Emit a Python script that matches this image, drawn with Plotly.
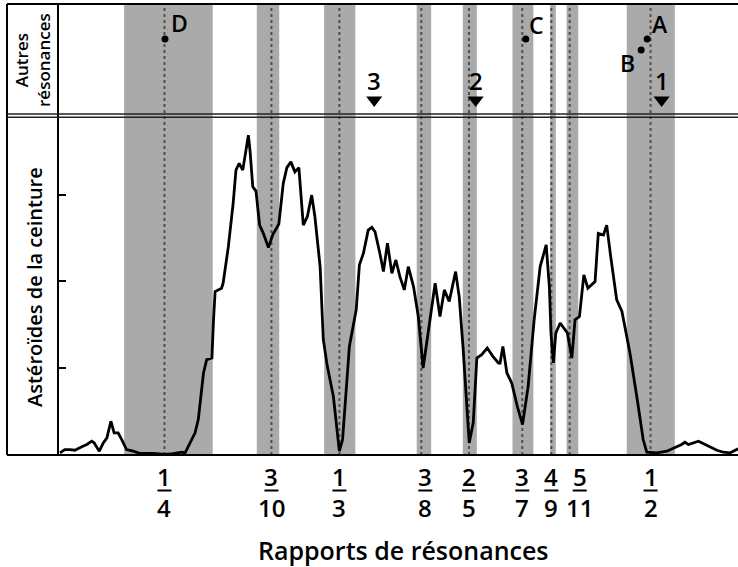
import plotly.graph_objects as go

# Semi-major axis of Jupiter (AU); a resonance p/q sits at a = aJ * (p/q)^(2/3)
A_JUPITER = 5.2026

# Resonance ratios (asteroid period / Jupiter period) used as x tick labels
res_num = [1, 3, 1, 3, 2, 3, 4, 5, 1]
res_den = [4, 10, 3, 8, 5, 7, 9, 11, 2]
res_label_shift = [0, 0, 0, 4, 0, 0, 0, 10, 0]  # px, to keep crowded labels apart

# Shaded resonance zones (AU)
zone_lo = [1.964, 2.295, 2.463, 2.694, 2.809, 2.933, 3.027, 3.068, 3.218]
zone_hi = [2.185, 2.351, 2.541, 2.730, 2.844, 2.985, 3.041, 3.097, 3.338]

# Main-belt asteroid distribution: semi-major axis (AU) and relative count
belt_a = [1.804, 1.816, 1.829, 1.841, 1.861, 1.871, 1.883, 1.889, 1.902, 1.912,
          1.921, 1.931, 1.939, 1.949, 1.958, 1.970, 1.987, 2.004, 2.036, 2.066,
          2.086, 2.108, 2.116, 2.128, 2.141, 2.149, 2.158, 2.162, 2.170, 2.183,
          2.187, 2.191, 2.207, 2.211, 2.224, 2.236, 2.243, 2.251, 2.260, 2.274,
          2.278, 2.285, 2.293, 2.302, 2.311, 2.324, 2.335, 2.350, 2.361, 2.370,
          2.380, 2.390, 2.400, 2.411, 2.421, 2.432, 2.440, 2.453, 2.461, 2.471,
          2.486, 2.501, 2.509, 2.526, 2.543, 2.551, 2.561, 2.573, 2.582, 2.590,
          2.602, 2.611, 2.621, 2.632, 2.642, 2.652, 2.663, 2.673, 2.686, 2.698,
          2.710, 2.723, 2.740, 2.752, 2.763, 2.775, 2.791, 2.800, 2.810, 2.825,
          2.835, 2.844, 2.856, 2.870, 2.884, 2.898, 2.902, 2.909, 2.919, 2.931,
          2.945, 2.958, 2.972, 2.987, 3.002, 3.017, 3.025, 3.029, 3.035, 3.041,
          3.052, 3.070, 3.081, 3.089, 3.100, 3.111, 3.121, 3.139, 3.147, 3.160,
          3.168, 3.178, 3.193, 3.206, 3.226, 3.243, 3.259, 3.268, 3.293, 3.318,
          3.338, 3.355, 3.363, 3.372, 3.397, 3.418, 3.443, 3.459, 3.476, 3.496]
belt_n = [2.5, 6.3, 6.3, 5.5, 10.1, 12.1, 15.9, 14.0, 4.4, 14.0,
          19.8, 38.9, 25.5, 25.5, 17.8, 6.3, 4.4, 1.7, 1.7, 0.6,
          1.7, 3.2, 2.5, 13.2, 25.5, 40.8, 75.3, 94.5, 109.8, 111.7,
          155.7, 188.3, 192.2, 197.9, 240.0, 289.9, 328.2, 335.9, 328.2, 368.4,
          351.1, 309.0, 304.0, 264.9, 255.7, 239.1, 254.0, 266.1, 312.9, 331.0,
          337.7, 326.2, 331.0, 264.9, 274.5, 299.4, 274.5, 217.0, 132.8, 102.1,
          67.6, 4.4, 17.8, 125.1, 167.2, 219.0, 232.4, 259.2, 262.3, 257.2,
          232.4, 211.3, 243.9, 209.4, 224.7, 205.5, 190.2, 217.0, 194.0, 159.5,
          100.2, 140.5, 197.9, 159.5, 190.2, 176.8, 211.3, 182.5, 121.3, 14.0,
          37.0, 111.7, 115.5, 123.2, 113.6, 106.0, 106.0, 125.1, 94.5, 83.0,
          56.1, 35.1, 79.1, 155.7, 217.0, 242.0, 194.0, 140.5, 106.0, 140.5,
          152.0, 140.5, 111.7, 155.7, 159.5, 207.5, 192.2, 199.8, 255.4, 253.4,
          264.9, 228.5, 178.7, 165.3, 117.5, 67.6, 17.8, 3.2, 2.5, 4.4,
          8.3, 12.1, 14.7, 12.1, 15.9, 10.9, 5.5, 3.2, 2.5, 7.1]

# Other resonances (upper panel): labelled points and numbered markers
other_names = ["D", "C", "A", "B"]
other_a = [2.066, 2.966, 3.269, 3.254]
other_h = [0.686, 0.686, 0.686, 0.587]
other_label_dx = [14, 11, 13, -14]
other_label_dy = [16, 14, 15, -13]

marker_names = ["3", "2", "1"]
marker_a = [2.588, 2.841, 3.305]
marker_h = [0.139, 0.139, 0.139]

FONT = "Open Sans"
WEIGHT = 600
W, H = 738, 567
L, R, T, B = 58, 0, 4, 112
PLOT_H = H - T - B
SPLIT = (455 - 115.5) / PLOT_H   # boundary between the two panels (paper)


def ypaper(py):
    return (455 - py) / PLOT_H


def xpaper(px):
    return (px - L) / (W - L - R)


def font(size):
    return dict(size=size, family=FONT, color="black", weight=WEIGHT)


res_a = [A_JUPITER * (n / d) ** (2 / 3) for n, d in zip(res_num, res_den)]

fig = go.Figure()

# asteroid distribution
fig.add_trace(go.Scatter(x=belt_a, y=belt_n, mode="lines",
                         line=dict(color="black", width=2.8),
                         hoverinfo="skip", showlegend=False))

# labelled points in the upper panel
fig.add_trace(go.Scatter(x=other_a, y=other_h, mode="markers", yaxis="y2",
                         marker=dict(color="black", size=7),
                         showlegend=False, hoverinfo="skip"))
fig.add_trace(go.Scatter(x=marker_a, y=marker_h, mode="markers", yaxis="y2",
                         marker=dict(color="black", size=14, symbol="triangle-down"),
                         showlegend=False, hoverinfo="skip"))

shapes = []
for lo, hi in zip(zone_lo, zone_hi):
    shapes.append(dict(type="rect", xref="x", yref="paper", x0=lo, x1=hi,
                       y0=0, y1=1, fillcolor="#aaaaaa", line=dict(width=0),
                       layer="below"))
for a in res_a:
    shapes.append(dict(type="line", xref="x", yref="paper", x0=a, x1=a,
                       y0=0, y1=1, line=dict(color="#4f4f4f", width=2,
                                             dash="3px,3px"),
                       layer="below"))

# frame lines
frame = dict(color="black", width=2)
xl = xpaper(7)
shapes += [
    dict(type="line", xref="paper", yref="paper", x0=xl, x1=1, y0=1, y1=1, line=frame),
    dict(type="line", xref="paper", yref="paper", x0=xl, x1=1, y0=0, y1=0, line=frame),
    dict(type="line", xref="paper", yref="paper", x0=xl, x1=xl, y0=0, y1=1, line=frame),
    dict(type="line", xref="paper", yref="paper", x0=0, x1=0, y0=0, y1=1, line=frame),
    dict(type="line", xref="paper", yref="paper", x0=xl, x1=1,
         y0=ypaper(114), y1=ypaper(114), line=dict(color="#222", width=1.6)),
    dict(type="line", xref="paper", yref="paper", x0=xl, x1=1,
         y0=ypaper(117.3), y1=ypaper(117.3), line=dict(color="#222", width=1.6)),
]

annotations = []
# fraction tick labels
for a, n, d, sh in zip(res_a, res_num, res_den, res_label_shift):
    for txt, py in ((str(n), 476), (str(d), 507)):
        annotations.append(dict(x=a, y=ypaper(py), xref="x", yref="paper", text=txt,
                                xanchor="center", yanchor="middle", showarrow=False,
                                xshift=sh, font=font(24)))
    shapes.append(dict(type="line", xref="x", yref="paper", xsizemode="pixel",
                       xanchor=a, x0=-7 + sh, x1=7 + sh,
                       y0=ypaper(490.5), y1=ypaper(490.5),
                       line=dict(color="black", width=2)))

# letters beside the upper-panel points
for name, a, h, dx, dy in zip(other_names, other_a, other_h, other_label_dx, other_label_dy):
    annotations.append(dict(x=a, y=h, xref="x", yref="y2", text=name, showarrow=False,
                            xanchor="center", yanchor="middle",
                            xshift=dx, yshift=dy, font=font(23)))
for name, a, h in zip(marker_names, marker_a, marker_h):
    annotations.append(dict(x=a, y=h, xref="x", yref="y2", text=name, showarrow=False,
                            xanchor="center", yanchor="middle",
                            yshift=20, font=font(24)))

# panel titles
annotations.append(dict(x=xpaper(33), y=ypaper(60), xref="paper", yref="paper",
                        text="Autres<br>résonances", textangle=-90, showarrow=False,
                        xanchor="center", yanchor="middle", font=font(17)))
annotations.append(dict(x=xpaper(34), y=ypaper(287), xref="paper", yref="paper",
                        text="Astéroïdes de la ceinture", textangle=-90, showarrow=False,
                        xanchor="center", yanchor="middle", font=font(20)))
annotations.append(dict(x=xpaper(403), y=ypaper(550), xref="paper", yref="paper",
                        text="Rapports de résonances", showarrow=False,
                        xanchor="center", yanchor="middle", font=font(25)))

fig.update_layout(
    width=W, height=H,
    margin=dict(l=L, r=R, t=T, b=B),
    paper_bgcolor="white", plot_bgcolor="white",
    showlegend=False,
    shapes=shapes, annotations=annotations,
    xaxis=dict(range=[1.799, 3.4956], showgrid=False, zeroline=False,
               showticklabels=False, ticks="", showline=False, fixedrange=True),
    yaxis=dict(domain=[0, SPLIT], range=[0, 339.5 / 0.868], showgrid=False,
               zeroline=False, showticklabels=False, showline=False,
               ticks="inside", tickvals=[100, 200, 300], ticklen=8, tickwidth=2,
               tickcolor="black"),
    yaxis2=dict(domain=[SPLIT, 1], range=[0, 1], anchor="x", showgrid=False,
                zeroline=False, showticklabels=False, showline=False, ticks=""),
)

fig.write_html("out.html")
